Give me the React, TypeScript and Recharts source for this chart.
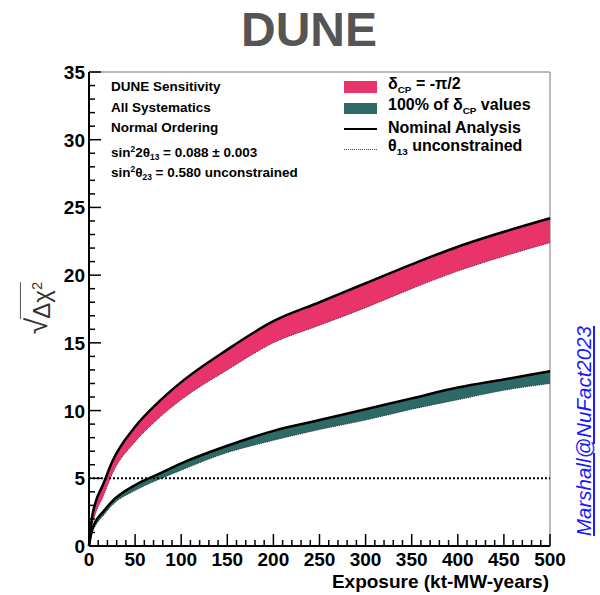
import React from 'react'
import {
  ComposedChart,
  Area,
  Line,
  XAxis,
  YAxis,
  ReferenceLine,
  ReferenceArea,
} from 'recharts'

// exposure in kt-MW-years
const exposure = [0, 3, 7, 15, 25, 50, 75, 100, 150, 200, 250, 300, 350, 400, 450, 500]
// delta_CP = -pi/2 band (nominal on top, theta13 unconstrained below)
const pinkHi = [0, 2.0, 3.2, 4.5, 6.2, 8.8, 10.6, 12.1, 14.5, 16.6, 18.0, 19.4, 20.8, 22.1, 23.2, 24.2]
const pinkLo = [0, 1.4, 2.4, 3.6, 5.3, 7.7, 9.4, 10.8, 13.0, 15.0, 16.3, 17.6, 19.0, 20.3, 21.4, 22.4]
// 100% of delta_CP values band
const tealHi = [0, 1.1, 1.8, 2.5, 3.3, 4.5, 5.3, 6.1, 7.4, 8.5, 9.3, 10.1, 10.9, 11.7, 12.3, 12.9]
const tealLo = [0, 0.9, 1.5, 2.2, 3.0, 4.1, 4.9, 5.6, 6.9, 7.8, 8.6, 9.3, 10.1, 10.8, 11.5, 12.0]

const xMajor = [0, 50, 100, 150, 200, 250, 300, 350, 400, 450, 500]
const yMajor = [0, 5, 10, 15, 20, 25, 30, 35]
const xTicks = Array.from({ length: 51 }, (_, i) => i * 10)
const yTicks = Array.from({ length: 36 }, (_, i) => i)

const PINK = '#e8336b'
const TEAL = '#2d6a66'
const FONT = '"Liberation Sans", Arial, sans-serif'

const data = exposure.map((e, i) => ({
  exposure: e,
  pink: [pinkLo[i], pinkHi[i]],
  teal: [tealLo[i], tealHi[i]],
  pinkHi: pinkHi[i],
  pinkLo: pinkLo[i],
  tealHi: tealHi[i],
  tealLo: tealLo[i],
}))

const XTick = (props: any) => {
  const { x, y, payload } = props
  const v = payload.value
  const major = xMajor.includes(v)
  return (
    <g>
      <line x1={x} x2={x} y1={y} y2={y - (major ? 12 : 6)} stroke="#000" strokeWidth={1.5} />
      {major && (
        <text x={x} y={y + 20} textAnchor="middle" fontSize={19} fontWeight="bold" fontFamily={FONT} fill="#000">
          {v}
        </text>
      )}
    </g>
  )
}

const YTick = (props: any) => {
  const { x, y, payload } = props
  const v = payload.value
  const major = yMajor.includes(v)
  return (
    <g>
      <line x1={x} x2={x + (major ? 12 : 6)} y1={y} y2={y} stroke="#000" strokeWidth={1.5} />
      {major && (
        <text x={x - 4} y={y + 7} textAnchor="end" fontSize={19} fontWeight="bold" fontFamily={FONT} fill="#000">
          {v}
        </text>
      )}
    </g>
  )
}

const sub = (t: string) => (
  <span style={{ fontSize: '0.62em', verticalAlign: '-0.4em' }}>{t}</span>
)
const sup = (t: string) => (
  <span style={{ fontSize: '0.62em', verticalAlign: '0.55em' }}>{t}</span>
)

const noteRow: React.CSSProperties = { height: 20.5, lineHeight: '20.5px', whiteSpace: 'nowrap' }
const legRow: React.CSSProperties = {
  height: 20.7,
  lineHeight: '20.7px',
  whiteSpace: 'nowrap',
  display: 'flex',
  alignItems: 'center',
}

export default function App() {
  return (
    <div style={{ position: 'absolute', left: 0, top: 0, width: 600, height: 595, fontFamily: FONT, background: '#fff' }}>
      <div
        style={{
          position: 'absolute',
          left: 0,
          width: 618,
          top: 2,
          textAlign: 'center',
          fontSize: 48,
          fontWeight: 'bold',
          color: '#555',
        }}
      >
        DUNE
      </div>
      <ComposedChart width={600} height={595} data={data} margin={{ top: 72, right: 50, bottom: 0, left: 0 }}>
        <ReferenceArea x1={0} x2={500} y1={0} y2={35} fill="none" stroke="#777" strokeWidth={1} ifOverflow="visible" />
        <ReferenceLine y={5} stroke="#000" strokeWidth={2} strokeDasharray="2 2" />
        <Area
          dataKey="pink"
          type="monotone"
          fill={PINK}
          fillOpacity={1}
          stroke="none"
          isAnimationActive={false}
        />
        <Area
          dataKey="teal"
          type="monotone"
          fill={TEAL}
          fillOpacity={1}
          stroke="none"
          isAnimationActive={false}
        />
        <Line dataKey="pinkLo" type="monotone" stroke="#5a2040" strokeWidth={1} strokeDasharray="1 1" dot={false} isAnimationActive={false} />
        <Line dataKey="tealLo" type="monotone" stroke="#203030" strokeWidth={1} strokeDasharray="1 1" dot={false} isAnimationActive={false} />
        <Line dataKey="pinkHi" type="monotone" stroke="#000" strokeWidth={2.5} dot={false} isAnimationActive={false} />
        <Line dataKey="tealHi" type="monotone" stroke="#000" strokeWidth={2.5} dot={false} isAnimationActive={false} />
        <XAxis
          dataKey="exposure"
          type="number"
          domain={[0, 500]}
          ticks={xTicks}
          interval={0}
          height={49}
          tickSize={0}
          tickMargin={0}
          tick={<XTick />}
          axisLine={{ stroke: '#000', strokeWidth: 2 }}
          tickLine={false}
        />
        <YAxis
          type="number"
          domain={[0, 35]}
          ticks={yTicks}
          interval={0}
          width={89}
          tickSize={0}
          tickMargin={0}
          tick={<YTick />}
          axisLine={{ stroke: '#000', strokeWidth: 2 }}
          tickLine={false}
        />
      </ComposedChart>

      <div
        style={{
          position: 'absolute',
          left: 283,
          top: 572,
          fontSize: 19,
          lineHeight: '19px',
          fontWeight: 'bold',
          width: 266,
          textAlign: 'right',
          whiteSpace: 'nowrap',
        }}
      >
        Exposure (kt-MW-years)
      </div>

      <div
        style={{
          position: 'absolute',
          left: 38,
          top: 308,
          transform: 'translate(-50%, -50%) rotate(-90deg)',
          fontSize: 24,
          color: '#333',
          whiteSpace: 'nowrap',
          display: 'flex',
          alignItems: 'flex-start',
        }}
      >
        <span style={{ fontSize: 30, lineHeight: '34px' }}>√</span>
        <span style={{ borderTop: '1.5px solid #555', lineHeight: '28px', paddingTop: 2, marginLeft: -1 }}>
          Δχ{sup('2')}
        </span>
      </div>

      <div style={{ position: 'absolute', left: 111, top: 77, fontSize: 13.5, fontWeight: 'bold' }}>
        <div style={noteRow}>DUNE Sensitivity</div>
        <div style={noteRow}>All Systematics</div>
        <div style={noteRow}>Normal Ordering</div>
        <div style={noteRow}>
          sin{sup('2')}2θ{sub('13')} = 0.088 ± 0.003
        </div>
        <div style={noteRow}>
          sin{sup('2')}θ{sub('23')} = 0.580 unconstrained
        </div>
      </div>

      <div style={{ position: 'absolute', left: 344, top: 77, fontSize: 16, fontWeight: 'bold' }}>
        <div style={legRow}>
          <span style={{ display: 'inline-block', width: 33, height: 12, background: PINK, marginRight: 11 }} />
          <span>
            δ{sub('CP')} = -π/2
          </span>
        </div>
        <div style={legRow}>
          <span style={{ display: 'inline-block', width: 33, height: 11, background: TEAL, marginRight: 11 }} />
          <span>
            100% of δ{sub('CP')} values
          </span>
        </div>
        <div style={legRow}>
          <span style={{ display: 'inline-block', width: 33, height: 0, borderTop: '2px solid #000', marginRight: 11 }} />
          <span>Nominal Analysis</span>
        </div>
        <div style={legRow}>
          <span style={{ display: 'inline-block', width: 33, height: 0, borderTop: '1px dotted #444', marginRight: 11 }} />
          <span>
            θ{sub('13')} unconstrained
          </span>
        </div>
      </div>

      <div
        style={{
          position: 'absolute',
          left: 584,
          top: 431,
          transform: 'translate(-50%, -50%) rotate(-90deg)',
          fontSize: 20.5,
          fontStyle: 'italic',
          textDecoration: 'underline',
          color: '#1a1aff',
          whiteSpace: 'nowrap',
        }}
      >
        Marshall@NuFact2023
      </div>
    </div>
  )
}
